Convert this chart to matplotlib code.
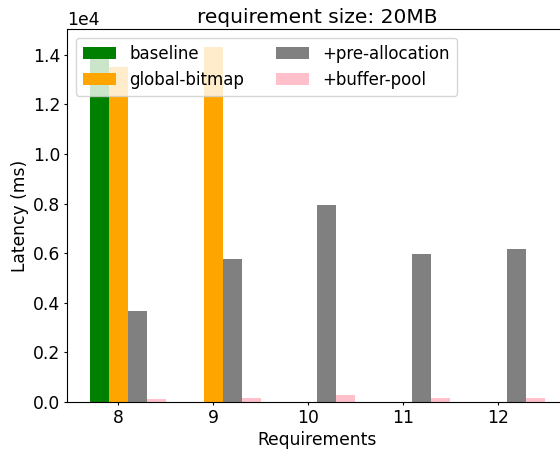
import matplotlib
matplotlib.use("Agg")
import matplotlib.pyplot as plt
import numpy as np

requirements = [8, 9, 10, 11, 12]
baseline = [13850, 0, 0, 0, 0]
global_bitmap = [13520, 14320, 0, 0, 0]
pre_allocation = [3650, 5770, 7940, 5970, 6170]
buffer_pool = [120, 160, 280, 160, 160]

series = [
    ("baseline", baseline, "green"),
    ("global-bitmap", global_bitmap, "orange"),
    ("+pre-allocation", pre_allocation, "gray"),
    ("+buffer-pool", buffer_pool, "pink"),
]

plt.rcParams.update({
    "font.size": 12.3,
    "xtick.major.size": 2.5,
    "ytick.major.size": 2.5,
    "xtick.major.pad": 2.5,
    "ytick.major.pad": 2.5,
    "axes.labelpad": 2.9,
    "axes.linewidth": 0.8,
})
fig = plt.figure(figsize=(5.6, 4.51), dpi=100)
ax = fig.add_axes([0.1196, 0.1086, 0.8946, 0.8271])

x = np.array(requirements, dtype=float)
width = 0.2
for i, (name, vals, color) in enumerate(series):
    ax.bar(x + (i - 1) * width, vals, width, label=name, color=color)

ax.set_xticks(requirements)
ax.set_xlabel("Requirements")
ax.set_ylabel("Latency (ms)")
ax.set_title("requirement size: 20MB", fontsize=14.5, pad=4.5)
ax.ticklabel_format(axis="y", style="sci", scilimits=(0, 0))
ax.legend(loc="upper left", ncol=2, fontsize=12, borderaxespad=0.55,
          columnspacing=1.9)

fig.savefig("out.png", dpi=100)
